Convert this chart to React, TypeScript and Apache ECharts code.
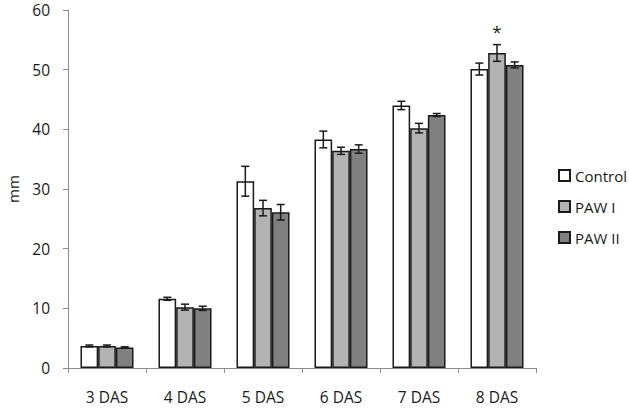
import React, { useEffect, useRef } from "react";
import * as echarts from "echarts";

const categories = ["3 DAS", "4 DAS", "5 DAS", "6 DAS", "7 DAS", "8 DAS"];
const seriesNames = ["Control", "PAW I", "PAW II"];
const controlMean = [3.7, 11.6, 31.3, 38.3, 44.0, 50.1];
const controlErr = [0.15, 0.25, 2.5, 1.4, 0.7, 1.0];
const pawIMean = [3.7, 10.2, 26.8, 36.4, 40.2, 52.8];
const pawIErr = [0.15, 0.5, 1.3, 0.6, 0.8, 1.4];
const pawIIMean = [3.45, 10.0, 26.1, 36.7, 42.4, 50.8];
const pawIIErr = [0.1, 0.35, 1.3, 0.7, 0.25, 0.5];
const significant = [
  [false, false, false],
  [false, false, false],
  [false, false, false],
  [false, false, false],
  [false, false, false],
  [false, true, false],
];
const yTicks = [0, 10, 20, 30, 40, 50, 60];
const colors = ["#ffffff", "#b3b3b3", "#808080"];

const FONT = "'Open Sans', sans-serif";
const GAP = 0.32;

export default function App() {
  const ref = useRef<HTMLDivElement>(null);
  useEffect(() => {
    if (!ref.current) return;
    const chart = echarts.init(ref.current, null, { renderer: "svg" });
    const means = [controlMean, pawIMean, pawIIMean];
    const errs = [controlErr, pawIErr, pawIIErr];
    const errData: any[] = [];
    means.forEach((m, s) => {
      m.forEach((v, i) => {
        errData.push([i, v, errs[s][i], s, significant[i][s] ? 1 : 0]);
      });
    });
    chart.setOption({
      animation: false,
      backgroundColor: "#ffffff",
      textStyle: { fontFamily: FONT },
      grid: { left: 68, right: 93, top: 10, bottom: 42, containLabel: false, outerBoundsMode: "none" },
      legend: {
        orient: "vertical",
        left: 558,
        top: 168,
        padding: 0,
        itemWidth: 11,
        itemHeight: 11,
        itemGap: 16,
        icon: "rect",
        data: seriesNames,
        textStyle: { fontFamily: FONT, fontSize: 15, color: "#1a1a1a" },
      },
      xAxis: {
        type: "category",
        data: categories,
        axisLine: { lineStyle: { color: "#8c8c8c", width: 1 } },
        axisTick: { show: true, length: 5, lineStyle: { color: "#8c8c8c" } },
        axisLabel: { color: "#1a1a1a", fontSize: 15.5, margin: 21, fontFamily: FONT },
      },
      yAxis: {
        type: "value",
        min: yTicks[0],
        max: yTicks[yTicks.length - 1],
        interval: 10,
        name: "mm",
        nameLocation: "middle",
        nameRotate: 90,
        nameGap: 48,
        nameTextStyle: { color: "#1a1a1a", fontSize: 15, fontFamily: FONT },
        splitLine: { show: false },
        axisLine: { show: true, lineStyle: { color: "#8c8c8c", width: 1 } },
        axisTick: { show: true, length: 5, lineStyle: { color: "#8c8c8c" } },
        axisLabel: { color: "#1a1a1a", fontSize: 15.5, margin: 18, fontFamily: FONT },
      },
      series: [
        ...seriesNames.map((name, s) => ({
          name,
          type: "bar",
          data: means[s],
          barGap: "0%",
          barCategoryGap: GAP * 100 + "%",
          itemStyle: { color: colors[s], borderColor: "#1a1a1a", borderWidth: 1.5 },
        })),
        {
          type: "custom",
          name: "err",
          data: errData,
          encode: { x: 0, y: 1 },
          z: 10,
          renderItem: (params: any, api: any) => {
            const cat = api.value(0);
            const mean = api.value(1);
            const err = api.value(2);
            const s = api.value(3);
            const sig = api.value(4);
            const band = api.size([1, 0])[0];
            const barW = (band * (1 - GAP)) / 3;
            const center = api.coord([cat, mean]);
            const x = center[0] + (s - 1) * barW;
            const top = api.coord([cat, mean + err])[1];
            const bot = api.coord([cat, mean - err])[1];
            const cap = 4;
            const style = { stroke: "#1a1a1a", lineWidth: 1.5 };
            const children: any[] = [
              { type: "line", shape: { x1: x, y1: top, x2: x, y2: bot }, style },
              { type: "line", shape: { x1: x - cap, y1: top, x2: x + cap, y2: top }, style },
              { type: "line", shape: { x1: x - cap, y1: bot, x2: x + cap, y2: bot }, style },
            ];
            if (sig) {
              children.push({
                type: "text",
                style: {
                  text: "*",
                  x: x,
                  y: top - 5,
                  align: "center",
                  verticalAlign: "bottom",
                  fontSize: 17,
                  fontFamily: FONT,
                  fill: "#1a1a1a",
                },
              });
            }
            return { type: "group", children };
          },
        },
      ],
    });
    return () => chart.dispose();
  }, []);
  return <div ref={ref} style={{ width: 629, height: 410, position: "absolute", left: 0, top: 0 }} />;
}
